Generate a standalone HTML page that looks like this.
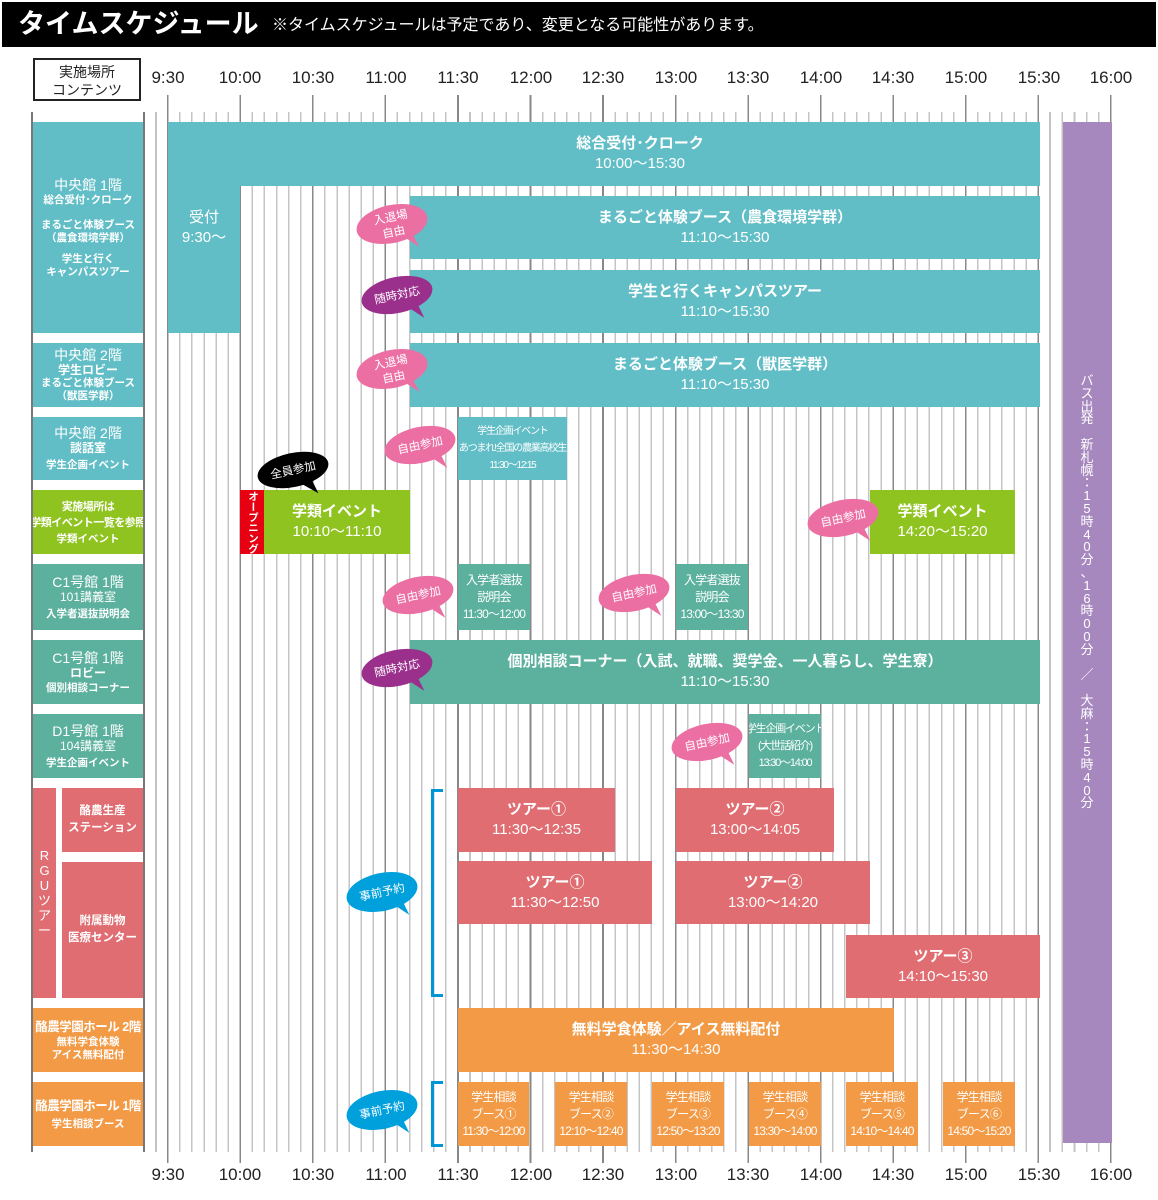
<!DOCTYPE html>
<html><head><meta charset="utf-8">
<style>
*{margin:0;padding:0;box-sizing:border-box}
body{width:1158px;height:1200px;background:#fff;position:relative;overflow:hidden;font-family:"Liberation Sans","Noto Sans CJK JP",sans-serif}
.a{position:absolute}
.b{position:absolute;color:#fff;display:flex;flex-direction:column;align-items:center;justify-content:center;text-align:center;font-size:15px;line-height:20px;font-weight:bold;white-space:nowrap;overflow:hidden}
.l{position:absolute;color:#fff;display:flex;flex-direction:column;align-items:center;justify-content:center;text-align:center;font-weight:bold;left:33px;width:110px;white-space:nowrap;overflow:hidden}
.l .t{font-size:14px;line-height:17px;font-weight:normal}
.l .s{font-size:10.5px;line-height:13px}
.sm{font-size:12px;line-height:17px;font-weight:normal;letter-spacing:-0.8px}
.tk{position:absolute;font-size:17px;color:#222;width:60px;text-align:center}
.T{background:#62bec6}.G{background:#5bb09e}.L{background:#8fc31f}.P{background:#e06d72}.O{background:#f29a45}
</style></head><body>
<div class="a" style="left:2px;top:2px;width:1154px;height:45px;background:#000"></div>
<div class="a" style="left:18px;top:6px;color:#fff;font-size:27px;font-weight:bold;line-height:36px;white-space:nowrap">タイムスケジュール</div>
<div class="a" style="left:272px;top:15px;color:#fff;font-size:16px;line-height:22px;white-space:nowrap">※タイムスケジュールは予定であり、変更となる可能性があります。</div>
<div class="a" style="left:33px;top:58px;width:108px;height:43px;border:2px solid #222;font-size:14px;line-height:18px;text-align:center;padding-top:3px;color:#222">実施場所<br>コンテンツ</div>

<!-- grid -->
<div class="a" style="left:167px;top:112px;width:948px;height:1040px;background:repeating-linear-gradient(to right,#c4c4c4 0,#c4c4c4 1.5px,transparent 1.5px,transparent 12.09px)"></div>
<div class="a" style="left:167px;top:95px;width:948px;height:1068px;background:repeating-linear-gradient(to right,#888 0,#888 1.6px,transparent 1.6px,transparent 72.54px)"></div>
<div class="a" style="left:155px;top:112px;width:1.5px;height:1040px;background:#c4c4c4"></div>
<div class="a" style="left:31px;top:112px;width:2px;height:1040px;background:#777"></div>
<div class="a" style="left:143px;top:112px;width:2px;height:1040px;background:#777"></div>
<div class="a" style="left:33px;top:112px;width:110px;height:1040px;background:#fff"></div>
<div class="a" style="left:1041px;top:112px;width:20px;height:1040px;background:#fff"></div>
<div class="a" style="left:1049px;top:112px;width:1.5px;height:1040px;background:#c4c4c4"></div>

<!-- time labels -->
<div class="tk" style="left:138px;top:68px">9:30</div><div class="tk" style="left:210px;top:68px">10:00</div><div class="tk" style="left:283px;top:68px">10:30</div><div class="tk" style="left:356px;top:68px">11:00</div><div class="tk" style="left:428px;top:68px">11:30</div><div class="tk" style="left:501px;top:68px">12:00</div><div class="tk" style="left:573px;top:68px">12:30</div><div class="tk" style="left:646px;top:68px">13:00</div><div class="tk" style="left:718px;top:68px">13:30</div><div class="tk" style="left:791px;top:68px">14:00</div><div class="tk" style="left:863px;top:68px">14:30</div><div class="tk" style="left:936px;top:68px">15:00</div><div class="tk" style="left:1009px;top:68px">15:30</div><div class="tk" style="left:1081px;top:68px">16:00</div>
<div class="tk" style="left:138px;top:1165px">9:30</div><div class="tk" style="left:210px;top:1165px">10:00</div><div class="tk" style="left:283px;top:1165px">10:30</div><div class="tk" style="left:356px;top:1165px">11:00</div><div class="tk" style="left:428px;top:1165px">11:30</div><div class="tk" style="left:501px;top:1165px">12:00</div><div class="tk" style="left:573px;top:1165px">12:30</div><div class="tk" style="left:646px;top:1165px">13:00</div><div class="tk" style="left:718px;top:1165px">13:30</div><div class="tk" style="left:791px;top:1165px">14:00</div><div class="tk" style="left:863px;top:1165px">14:30</div><div class="tk" style="left:936px;top:1165px">15:00</div><div class="tk" style="left:1009px;top:1165px">15:30</div><div class="tk" style="left:1081px;top:1165px">16:00</div>

<!-- left labels -->
<div class="l T" style="top:122px;height:211px"><div class="t">中央館 1階</div><div class="s">総合受付･クローク</div><div class="s" style="margin-top:12px">まるごと体験ブース</div><div class="s">（農食環境学群）</div><div class="s" style="margin-top:8px">学生と行く</div><div class="s">キャンパスツアー</div></div>
<div class="l T" style="top:343px;height:64px"><div class="t">中央館 2階</div><div class="s" style="font-size:12px">学生ロビー</div><div class="s">まるごと体験ブース</div><div class="s">（獣医学群）</div></div>
<div class="l T" style="top:417px;height:63px"><div class="t">中央館 2階</div><div class="s" style="font-size:12px">談話室</div><div class="s" style="margin-top:4px">学生企画イベント</div></div>
<div class="l L" style="top:490px;height:64px"><div class="s" style="font-size:11px;line-height:16px;letter-spacing:-0.5px">実施場所は<br>学類イベント一覧を参照</div><div class="s" style="margin-top:2px">学類イベント</div></div>
<div class="l G" style="top:564px;height:66px"><div class="t">C1号館 1階</div><div class="s" style="font-size:12px;font-weight:normal">101講義室</div><div class="s" style="margin-top:4px">入学者選抜説明会</div></div>
<div class="l G" style="top:640px;height:64px"><div class="t">C1号館 1階</div><div class="s" style="font-size:12px">ロビー</div><div class="s" style="margin-top:2px">個別相談コーナー</div></div>
<div class="l G" style="top:714px;height:64px"><div class="t">D1号館 1階</div><div class="s" style="font-size:12px;font-weight:normal">104講義室</div><div class="s" style="margin-top:4px">学生企画イベント</div></div>
<div class="a P" style="left:33px;top:788px;width:23px;height:210px"></div>
<div class="a" style="left:33px;top:848px;width:23px;color:#fff;font-size:13px;line-height:15px;text-align:center">R<br>G<br>U<br>ツ<br>ア<br>ー</div>
<div class="l P" style="left:62px;width:81px;top:788px;height:64px"><div class="s" style="font-size:11.5px;line-height:17px">酪農生産<br>ステーション</div></div>
<div class="l P" style="left:62px;width:81px;top:862px;height:136px"><div class="s" style="font-size:11.5px;line-height:17px">附属動物<br>医療センター</div></div>
<div class="l O" style="top:1008px;height:64px"><div class="t" style="font-weight:bold;font-size:12.5px;letter-spacing:-0.5px">酪農学園ホール 2階</div><div class="s">無料学食体験</div><div class="s">アイス無料配付</div></div>
<div class="l O" style="top:1082px;height:64px"><div class="t" style="font-weight:bold;font-size:12.5px;letter-spacing:-0.5px">酪農学園ホール 1階</div><div class="s" style="margin-top:3px">学生相談ブース</div></div>

<!-- events -->
<div class="b T" style="left:168px;top:122px;width:72px;height:211px;font-weight:normal"><div>受付</div><div>9:30〜</div></div>
<div class="b T" style="left:240px;top:122px;width:800px;height:64px"><div>総合受付･クローク</div><div style="font-weight:normal">10:00〜15:30</div></div>
<div class="b T" style="left:410px;top:196px;width:630px;height:63px"><div>まるごと体験ブース（農食環境学群）</div><div style="font-weight:normal">11:10〜15:30</div></div>
<div class="b T" style="left:410px;top:270px;width:630px;height:63px"><div>学生と行くキャンパスツアー</div><div style="font-weight:normal">11:10〜15:30</div></div>
<div class="b T" style="left:410px;top:343px;width:630px;height:64px"><div>まるごと体験ブース（獣医学群）</div><div style="font-weight:normal">11:10〜15:30</div></div>
<div class="b T sm" style="left:458px;top:417px;width:109px;height:63px;font-size:10px;line-height:17px;letter-spacing:-1.2px"><div>学生企画イベント</div><div>あつまれ!全国の農業高校生</div><div>11:30〜12:15</div></div>
<div class="a" style="left:240px;top:490px;width:24px;height:64px;background:#e60012;color:#fff;font-size:10.5px;line-height:22px;writing-mode:vertical-rl;text-align:center;padding-top:1px;font-weight:bold;overflow:hidden">オープニング</div>
<div class="b L" style="left:264px;top:490px;width:146px;height:64px"><div>学類イベント</div><div style="font-weight:normal">10:10〜11:10</div></div>
<div class="b L" style="left:870px;top:490px;width:145px;height:64px"><div>学類イベント</div><div style="font-weight:normal">14:20〜15:20</div></div>
<div class="b G sm" style="left:458px;top:564px;width:72px;height:66px"><div>入学者選抜</div><div>説明会</div><div>11:30〜12:00</div></div>
<div class="b G sm" style="left:676px;top:564px;width:72px;height:66px"><div>入学者選抜</div><div>説明会</div><div>13:00〜13:30</div></div>
<div class="b G" style="left:410px;top:640px;width:630px;height:64px"><div>個別相談コーナー（入試、就職、奨学金、一人暮らし、学生寮）</div><div style="font-weight:normal">11:10〜15:30</div></div>
<div class="b G sm" style="left:749px;top:714px;width:72px;height:64px;font-size:11px;letter-spacing:-1.2px"><div>学生企画イベント</div><div>(大世話紹介)</div><div>13:30〜14:00</div></div>
<div class="b P" style="left:458px;top:788px;width:157px;height:64px"><div>ツアー①</div><div style="font-weight:normal">11:30〜12:35</div></div>
<div class="b P" style="left:676px;top:788px;width:158px;height:64px"><div>ツアー②</div><div style="font-weight:normal">13:00〜14:05</div></div>
<div class="b P" style="left:458px;top:861px;width:194px;height:63px"><div>ツアー①</div><div style="font-weight:normal">11:30〜12:50</div></div>
<div class="b P" style="left:676px;top:861px;width:194px;height:63px"><div>ツアー②</div><div style="font-weight:normal">13:00〜14:20</div></div>
<div class="b P" style="left:846px;top:935px;width:194px;height:63px"><div>ツアー③</div><div style="font-weight:normal">14:10〜15:30</div></div>
<div class="b O" style="left:458px;top:1008px;width:436px;height:64px"><div>無料学食体験／アイス無料配付</div><div style="font-weight:normal">11:30〜14:30</div></div>
<div class="b O sm" style="left:458px;top:1082px;width:71px;height:64px"><div>学生相談</div><div>ブース①</div><div>11:30〜12:00</div></div>
<div class="b O sm" style="left:555px;top:1082px;width:72px;height:64px"><div>学生相談</div><div>ブース②</div><div>12:10〜12:40</div></div>
<div class="b O sm" style="left:652px;top:1082px;width:72px;height:64px"><div>学生相談</div><div>ブース③</div><div>12:50〜13:20</div></div>
<div class="b O sm" style="left:749px;top:1082px;width:72px;height:64px"><div>学生相談</div><div>ブース④</div><div>13:30〜14:00</div></div>
<div class="b O sm" style="left:846px;top:1082px;width:72px;height:64px"><div>学生相談</div><div>ブース⑤</div><div>14:10〜14:40</div></div>
<div class="b O sm" style="left:943px;top:1082px;width:72px;height:64px"><div>学生相談</div><div>ブース⑥</div><div>14:50〜15:20</div></div>

<!-- bus -->
<div class="a" style="left:1063px;top:122px;width:49px;height:1021px;background:#a688bf"></div>
<div class="a" style="left:1077px;top:375px;width:20px;color:#fff;font-size:13px;line-height:12.8px;text-align:center">バ<br>ス<br>出<br>発<br><br>新<br>札<br>幌<br>：<br>1<br>5<br>時<br>4<br>0<br>分<br>、<br>1<br>6<br>時<br>0<br>0<br>分<br><br>／<br><br>大<br>麻<br>：<br>1<br>5<br>時<br>4<br>0<br>分</div>

<!-- brackets -->
<div class="a" style="left:431px;top:789px;width:12px;height:208px;border:3px solid #0096d6;border-right:none"></div>
<div class="a" style="left:431px;top:1081px;width:12px;height:66px;border:3px solid #0096d6;border-right:none"></div>

<!-- bubbles -->
<svg class="a" style="left:0;top:0" width="1158" height="1200">
<g font-family="Liberation Sans,Noto Sans CJK JP,sans-serif" font-size="11.5" fill="#fff" text-anchor="middle">
<g transform="translate(392,224) rotate(-12)"><path d="M8 14 L22 28 L18 14Z" fill="#ec6fa4"/><ellipse rx="36" ry="19" fill="#ec6fa4"/><text y="-3">入退場</text><text y="12">自由</text></g>
<g transform="translate(397,295) rotate(-12)"><path d="M8 14 L22 28 L18 12Z" fill="#9b2f8c"/><ellipse rx="36" ry="18" fill="#9b2f8c"/><text y="4">随時対応</text></g>
<g transform="translate(392,369) rotate(-12)"><path d="M8 14 L22 28 L18 14Z" fill="#ec6fa4"/><ellipse rx="36" ry="19" fill="#ec6fa4"/><text y="-3">入退場</text><text y="12">自由</text></g>
<g transform="translate(420,445) rotate(-12)"><path d="M8 14 L22 28 L18 12Z" fill="#ec6fa4"/><ellipse rx="36" ry="18" fill="#ec6fa4"/><text y="4">自由参加</text></g>
<g transform="translate(293,470) rotate(-12)"><path d="M4 14 L20 28 L16 12Z" fill="#000"/><ellipse rx="36" ry="17" fill="#000"/><text y="4">全員参加</text></g>
<g transform="translate(418,595) rotate(-12)"><path d="M8 14 L22 28 L18 12Z" fill="#ec6fa4"/><ellipse rx="36" ry="18" fill="#ec6fa4"/><text y="4">自由参加</text></g>
<g transform="translate(634,593) rotate(-12)"><path d="M8 14 L22 28 L18 12Z" fill="#ec6fa4"/><ellipse rx="36" ry="18" fill="#ec6fa4"/><text y="4">自由参加</text></g>
<g transform="translate(843,518) rotate(-12)"><path d="M8 14 L22 28 L18 12Z" fill="#ec6fa4"/><ellipse rx="36" ry="18" fill="#ec6fa4"/><text y="4">自由参加</text></g>
<g transform="translate(397,668) rotate(-12)"><path d="M8 14 L22 28 L18 12Z" fill="#9b2f8c"/><ellipse rx="36" ry="18" fill="#9b2f8c"/><text y="4">随時対応</text></g>
<g transform="translate(707,742) rotate(-12)"><path d="M8 14 L22 28 L18 12Z" fill="#ec6fa4"/><ellipse rx="36" ry="18" fill="#ec6fa4"/><text y="4">自由参加</text></g>
<g transform="translate(382,892) rotate(-12)"><path d="M8 14 L22 28 L18 12Z" fill="#00a0dc"/><ellipse rx="36" ry="19" fill="#00a0dc"/><text y="4">事前予約</text></g>
<g transform="translate(382,1110) rotate(-12)"><path d="M8 14 L22 28 L18 12Z" fill="#00a0dc"/><ellipse rx="36" ry="19" fill="#00a0dc"/><text y="4">事前予約</text></g>
</g>
</svg>
</body></html>
